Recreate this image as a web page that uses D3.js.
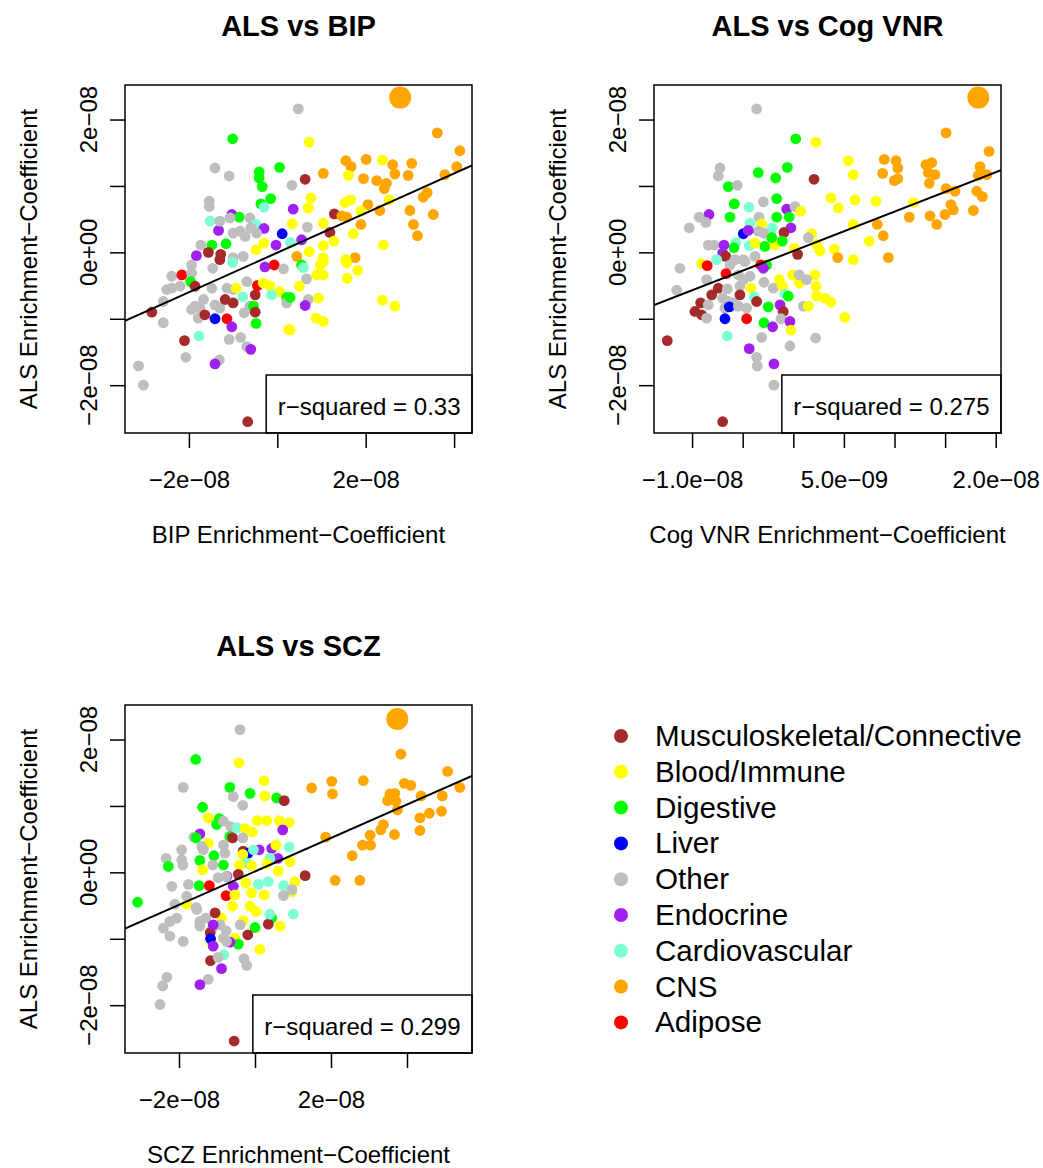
<!DOCTYPE html>
<html>
<head>
<meta charset="utf-8">
<script src="https://cdn.jsdelivr.net/npm/d3@7"></script>
<style>
  body { margin: 0; background: #fff; }
  text { font-family: "Liberation Sans", Arial, sans-serif; fill: #000; }
</style>
</head>
<body>
<div id="chart"></div>
<script>
// tissue categories and their colours
var categories = ["Musculoskeletal/Connective", "Blood/Immune", "Digestive", "Liver", "Other",
                  "Endocrine", "Cardiovascular", "CNS", "Adipose"];
var catColors = ["#A52A2A", "#FFFF00", "#00FF00", "#0000FF", "#BEBEBE",
                 "#A020F0", "#7FFFD4", "#FFA500", "#FF0000"];

// enrichment coefficients, in units of 1e-08: [x, ALS, category index]
var bipPoints = [
  [0.475,2.16,4],[-1.01,1.71,2],[-1.41,1.27,4],[-1.09,1.15,4],[0.05,1.28,2],[-0.41,1.21,2],[-0.41,1.12,2],
  [-0.34,0.99,2],[0.33,1.01,4],[-0.15,0.81,2],[-0.37,0.73,2],[-0.30,0.68,6],[-1.54,0.77,4],[-1.54,0.69,4],
  [0.36,0.65,5],[-1.03,0.57,5],[-0.86,0.53,2],[-0.62,0.52,4],[-1.07,0.52,4],[-1.52,0.47,6],[-1.33,0.33,5],
  [-1.30,0.47,4],[-0.48,0.42,6],[-0.30,0.36,5],[0.34,0.43,1],[0.11,0.28,3],[-1.0,0.29,4],[-0.84,0.32,4],
  [-0.73,0.24,4],[-0.60,0.37,4],[-0.47,0.29,4],[-0.30,0.14,1],[-0.03,0.11,5],[0.30,0.15,6],[-1.16,0.13,2],
  [-1.48,0.11,2],[-1.73,0.11,4],[-0.48,0.04,1],[-1.83,-0.05,5],[-1.56,0.0,0],[-1.28,-0.03,0],[-1.0,-0.08,4],
  [-0.77,-0.06,4],[0.44,-0.06,7],[3.62,1.80,7],[4.13,1.53,7],[0.72,1.66,1],[1.55,1.38,7],[1.67,1.29,7],
  [2.01,1.40,7],[2.38,1.39,1],[2.61,1.32,7],[3.04,1.34,7],[2.66,1.18,7],[2.96,1.16,7],[1.04,1.19,7],
  [1.61,1.16,1],[1.95,1.11,7],[2.25,1.08,7],[2.47,1.04,7],[2.42,0.96,7],[3.79,1.17,7],[4.06,1.29,7],
  [0.63,1.10,0],[0.76,0.82,1],[0.70,0.67,1],[1.53,0.75,1],[1.66,0.79,1],[2.05,0.72,7],[2.32,0.63,7],
  [2.53,0.79,1],[3.39,0.90,7],[3.30,0.83,7],[3.0,0.63,7],[3.53,0.57,7],[3.08,0.42,7],[3.17,0.25,7],
  [1.89,0.62,1],[1.29,0.58,0],[1.46,0.55,7],[1.57,0.53,7],[1.89,0.42,7],[0.68,0.38,4],[1.04,0.44,1],
  [1.19,0.30,0],[1.72,0.28,1],[0.55,0.19,5],[1.28,0.17,1],[1.04,0.10,1],[2.40,0.11,1],[0.72,0.01,1],
  [1.76,-0.08,7],[1.04,-0.08,1],[1.55,-0.11,1],
  [-1.30,-0.11,0],[-1.94,-0.19,4],[-1.46,-0.24,4],[-1.01,-0.15,6],[-0.28,-0.22,5],[-0.07,-0.19,8],
  [0.14,-0.25,4],[-2.39,-0.36,4],[-2.16,-0.34,8],[-1.94,-0.31,4],[-1.96,-0.44,2],[-1.86,-0.51,0],
  [-2.50,-0.56,4],[-2.39,-0.54,4],[-2.20,-0.51,4],[-2.58,-0.74,4],[-2.84,-0.90,0],[-2.58,-1.06,4],
  [-1.79,-0.99,4],[-1.75,-0.84,4],[-1.86,-0.81,4],[-1.94,-0.86,4],[-1.67,-0.71,4],[-1.48,-0.54,4],
  [-1.41,-0.79,4],[-1.30,-0.84,4],[-1.64,-0.94,0],[-1.41,-1.00,3],[-1.14,-1.00,8],[-1.03,-1.12,5],
  [-1.18,-0.71,0],[-1.0,-0.76,0],[-1.14,-0.54,4],[-1.0,-0.56,4],[-0.93,-0.54,1],[-0.69,-0.44,4],
  [-0.62,-0.81,4],[-0.54,-0.81,2],[-0.50,-0.64,0],[-0.50,-0.90,0],[-0.78,-0.67,6],[-0.75,-0.91,4],
  [-0.48,-1.07,2],[-0.45,-0.50,8],[-0.32,-0.46,1],[-0.17,-0.50,1],[0.05,-0.59,1],[-0.13,-0.64,6],
  [0.21,-0.68,2],[0.21,-0.76,4],[0.26,-1.16,1],[-1.77,-1.26,6],[-2.10,-1.33,0],[-2.07,-1.58,4],
  [-1.09,-1.31,4],[-0.83,-1.28,4],[-0.69,-1.42,4],[-0.60,-1.46,5],[-1.31,-1.62,4],[-1.41,-1.68,5],
  [-3.14,-1.71,4],[-3.03,-2.0,4],[-0.67,-2.55,0],
  [0.55,-0.19,2],[0.59,-0.23,6],[0.97,-0.19,1],[1.04,-0.14,1],[0.89,-0.34,1],[1.04,-0.34,1],[0.66,-0.40,4],
  [1.57,-0.16,1],[1.82,-0.27,1],[1.58,-0.39,1],[0.50,-0.51,1],[0.29,-0.68,2],[0.70,-0.71,4],[0.63,-0.80,5],
  [0.93,-0.69,1],[0.88,-0.99,1],[1.04,-1.04,1],[0.29,-1.17,1],[2.38,-0.72,1],[2.66,-0.81,1]
];

var cogPoints = [
  [-0.362,2.16,4],[0.024,1.71,2],[0.224,1.66,1],[-0.724,1.27,4],[-0.741,1.15,4],[-0.346,1.20,2],
  [-0.059,1.28,2],[-0.174,1.12,2],[0.205,1.10,0],[-0.642,0.99,2],[-0.553,1.01,4],[-0.583,0.73,2],
  [-0.164,0.81,2],[-0.438,0.68,6],[-0.296,0.76,4],[-0.065,0.65,5],[0.017,0.69,4],[0.073,0.62,1],
  [-0.833,0.57,5],[-0.929,0.53,4],[-0.863,0.45,4],[-1.028,0.37,4],[-0.625,0.53,2],[-0.164,0.53,2],
  [-0.040,0.53,2],[-0.339,0.53,4],[-0.428,0.44,6],[-0.312,0.43,1],[-0.023,0.37,5],[-0.092,0.30,0],
  [-0.208,0.37,6],[-0.223,0.30,6],[-0.346,0.32,4],[-0.290,0.29,4],[-0.494,0.28,3],[-0.445,0.33,5],
  [-0.566,0.15,6],[-0.586,0.07,2],[-0.435,0.10,6],[-0.378,0.14,1],[-0.280,0.09,2],[-0.181,0.11,1],
  [-0.109,0.17,2],[-0.213,0.22,2],[-0.840,0.11,4],[-0.784,0.11,4],[-0.685,0.11,5],[-0.698,-0.01,5],
  [-0.668,-0.06,0],[-0.378,-0.06,4],[-0.494,-0.11,4],[0.010,0.06,1],[0.043,-0.03,0],[0.182,0.28,1],
  [0.231,0.12,1],[0.264,0.02,1],[0.148,0.22,4],
  [1.509,1.80,7],[1.934,1.52,7],[0.543,1.38,1],[0.593,1.17,1],[0.899,1.40,7],[1.015,1.38,7],[1.032,1.27,7],
  [0.883,1.19,7],[0.998,1.08,7],[1.032,1.11,7],[1.311,1.32,7],[1.368,1.35,7],[1.334,1.20,7],[1.400,1.17,7],
  [1.344,1.04,7],[1.845,1.29,7],[1.828,1.16,7],[1.911,1.17,7],[1.509,0.96,7],[1.598,0.92,7],[1.812,0.92,7],
  [1.868,0.84,7],[1.779,0.63,7],[1.558,0.72,7],[1.581,0.64,7],[1.499,0.57,7],[1.351,0.55,7],[1.417,0.42,7],
  [1.146,0.53,7],[0.373,0.82,1],[0.445,0.67,1],[0.610,0.79,1],[0.817,0.77,1],[1.186,0.75,1],[0.830,0.42,7],
  [0.889,0.25,7],[0.593,0.42,1],[0.751,0.17,1],[0.405,0.05,1],[0.939,-0.08,7],[0.439,-0.08,7],[0.593,-0.11,1],
  [0.51,-0.98,1],[0.37,-0.75,1],
  [-0.905,-0.17,1],[-0.850,-0.20,8],[-1.120,-0.24,4],[-0.757,-0.11,6],[-0.625,-0.19,4],[-0.576,-0.11,4],
  [-0.477,-0.14,4],[-0.263,-0.19,2],[-0.322,-0.19,8],[-0.296,-0.24,5],[-0.856,-0.41,4],[-0.665,-0.32,8],
  [-0.543,-0.34,4],[-0.494,-0.41,4],[-0.428,-0.36,4],[-0.527,-0.51,4],[-1.152,-0.57,4],[-0.741,-0.54,0],
  [-0.652,-0.55,4],[-0.806,-0.64,0],[-0.915,-0.76,0],[-0.971,-0.89,0],[-0.905,-0.94,0],[-0.856,-0.99,4],
  [-0.840,-0.79,4],[-0.698,-0.69,4],[-0.642,-0.74,4],[-0.675,-0.84,4],[-0.593,-0.76,4],[-0.527,-0.64,0],
  [-0.632,-0.82,3],[-0.675,-1.00,3],[-0.543,-0.81,4],[-0.461,-0.84,4],[-0.461,-1.00,8],[-0.652,-1.26,6],
  [-0.418,-0.54,1],[-0.385,-0.67,6],[-0.362,-0.74,0],[-0.290,-0.45,4],[-0.198,-0.54,4],[-0.138,-0.41,1],
  [-0.105,-0.51,1],[-0.082,-0.63,6],[-0.049,-0.66,2],[-0.247,-0.82,2],[-0.131,-0.79,5],[-0.099,-0.89,0],
  [-0.122,-1.00,4],[-0.290,-1.06,2],[-0.204,-1.12,5],[-0.033,-1.04,5],[-0.023,-1.17,1],[-0.312,-1.28,4],
  [-0.033,-1.41,4],[-0.435,-1.45,5],[-0.362,-1.58,4],[-0.356,-1.71,4],[-0.191,-1.68,5],[-0.191,-2.0,4],
  [-1.245,-1.33,0],[-0.698,-2.55,0],[-0.006,-0.34,1],[0.059,-0.46,1],[0.214,-0.34,1],[0.224,-0.51,1],
  [0.231,-0.66,1],[0.313,-0.69,1],[0.059,-0.34,4],[0.132,-0.41,4],[0.099,-0.81,4],[0.148,-0.81,1],
  [0.221,-1.29,4]
];

var sczPoints = [
  [-0.395,2.15,4],[-1.56,1.70,2],[-0.42,1.65,1],[-1.89,1.28,4],[-0.66,1.28,2],[0.24,1.38,1],[0.26,1.15,1],
  [-0.13,1.19,2],[-0.57,1.14,4],[-0.32,1.01,4],[0.57,1.12,2],[0.77,1.08,0],[-1.38,0.98,2],[-1.23,0.82,1],
  [-0.94,0.81,2],[-1.01,0.72,2],[-0.83,0.77,4],[-0.64,0.69,4],[-0.47,0.67,6],[-0.26,0.66,1],[-0.07,0.61,1],
  [0.06,0.78,1],[0.31,0.78,1],[0.64,0.78,1],[0.90,0.75,1],[0.73,0.64,5],[-1.45,0.58,5],[-1.61,0.53,4],
  [-1.55,0.52,2],[-0.66,0.54,2],[-0.59,0.52,0],[-0.32,0.52,4],[-1.23,0.44,1],[-1.40,0.39,4],[-1.36,0.34,4],
  [-0.83,0.41,4],[-0.79,0.29,4],[-1.93,0.34,4],[-2.34,0.21,4],[-1.93,0.19,4],[-1.90,0.11,4],[-2.28,0.09,2],
  [-1.45,0.18,2],[-1.08,0.25,2],[-0.83,0.11,2],[-1.38,0.04,1],[-1.11,0.11,4],[-0.31,0.32,0],[-0.18,0.29,3],
  [-0.32,0.27,1],[0.11,0.34,5],[0.44,0.36,5],[-0.04,0.34,6],[0.55,0.41,1],[0.90,0.38,6],[0.60,0.21,5],
  [-0.22,0.14,6],[0.39,0.21,6],[-0.09,0.10,1],[0.31,0.13,1],[0.92,0.16,1],[0.61,0.02,1],[-0.41,0.11,1],
  [-0.44,-0.03,0],[-0.74,-0.06,5],[-0.97,-0.08,4],
  [3.84,1.78,7],[5.07,1.52,7],[5.39,1.28,7],[1.49,1.27,7],[2.02,1.37,7],[2.04,1.18,7],[2.85,1.38,7],
  [3.93,1.34,7],[4.10,1.31,7],[3.55,1.18,7],[3.68,1.19,7],[3.49,1.08,7],[3.71,1.07,7],[3.75,0.94,7],
  [4.37,1.15,7],[4.93,1.15,7],[4.91,0.92,7],[4.59,0.89,7],[4.34,0.82,7],[4.34,0.63,7],[3.38,0.72,7],
  [3.31,0.64,7],[3.67,0.57,7],[3.03,0.56,7],[2.83,0.41,7],[3.04,0.41,7],[1.86,0.53,7],[2.56,0.25,7],
  [2.11,-0.12,7],[2.76,-0.12,7],[1.32,-0.05,0],[1.05,-0.14,1],[0.97,-0.29,1],
  [-3.09,-0.45,2],[-2.19,-0.21,4],[-1.75,-0.18,4],[-1.47,-0.20,2],[-1.20,-0.20,8],[-0.76,-0.35,8],
  [-0.57,-0.21,5],[-0.76,-0.06,4],[-0.24,-0.16,1],[-0.09,-0.31,1],[0.24,-0.34,1],[-0.13,-0.51,1],
  [0.03,-0.59,1],[0.66,-0.81,1],[0.13,-1.16,1],[-0.53,-0.34,1],[-0.59,-0.51,1],[-0.88,-0.69,1],
  [-0.31,-0.73,1],[-0.53,-0.99,1],[-1.80,-0.48,1],[-2.11,-0.48,4],[-1.80,-0.36,4],[-1.55,-0.53,4],
  [0.09,-0.18,6],[0.35,-0.14,6],[0.75,-0.20,6],[0.75,-0.35,4],[0.97,-0.26,4],[0.44,-0.69,2],[0.35,-0.78,0],
  [1.01,-0.63,6],[0.39,-0.63,6],[0.0,-0.83,2],[-0.39,-0.79,4],[-0.19,-0.94,0],[-0.44,-1.08,2],[-0.66,-1.05,5],
  [-2.41,-0.84,4],[-2.24,-0.74,4],[-2.06,-0.69,4],[-2.24,-0.96,4],[-1.89,-1.04,4],[-1.53,-0.56,4],
  [-1.45,-0.74,4],[-1.29,-0.69,4],[-1.45,-0.81,4],[-1.14,-0.86,4],[-0.92,-0.79,4],[-0.76,-0.88,4],
  [-0.83,-0.99,4],[-0.75,-1.04,4],[-1.05,-0.61,0],[-1.18,-0.91,0],[-1.10,-0.79,5],[-1.14,-1.06,1],
  [-1.17,-1.00,3],[-1.10,-1.11,5],[-1.17,-1.33,0],[-0.82,-1.24,6],[-0.97,-1.28,4],[-0.88,-1.45,5],
  [-0.29,-1.30,4],[-0.22,-1.40,4],[-1.23,-1.61,4],[-1.45,-1.69,5],[-2.32,-1.58,4],[-2.43,-1.71,4],
  [-2.50,-1.99,4],[-0.55,-2.54,0]
];

// the enlarged CNS point in each panel
var highlightBIP = [2.78, 2.33];
var highlightCOG = [1.828, 2.33];
var highlightSCZ = [3.745, 2.31];

// fitted lines: [intercept, slope], and r-squared
var fitBIP = [-0.005, 0.298];
var fitCOG = [0.020, 0.5925];
var fitSCZ = [0.014, 0.252];
var rSquared = ["0.33", "0.275", "0.299"];

// ticks (units of 1e-08)
var yTicks = [-2, -1, 0, 1, 2];
var yTickLabels = ["\u22122e\u221208", "", "0e+00", "", "2e\u221208"];
var bipTicks = [-2, 0, 2, 4];
var bipTickLabels = ["\u22122e\u221208", "", "2e\u221208", ""];
var cogTicks = [-1, -0.5, 0, 0.5, 1, 1.5, 2];
var cogTickLabels = ["\u22121.0e\u221208", "", "", "5.0e\u221209", "", "", "2.0e\u221208"];
var sczTicks = [-2, 0, 2, 4];
var sczTickLabels = ["\u22122e\u221208", "", "2e\u221208", ""];

var width = 1043, height = 1168;
var yDomain = [-2.72, 2.52];

var panels = [
  {id: "bip", title: "ALS vs BIP", xlab: "BIP Enrichment\u2212Coefficient", points: bipPoints,
   hi: highlightBIP, fit: fitBIP, r2: rSquared[0], ticks: bipTicks, labels: bipTickLabels,
   left: 125, right: 472, top: 85, bottom: 433, xDomain: [-3.446, 4.405]},
  {id: "cog", title: "ALS vs Cog VNR", xlab: "Cog VNR Enrichment\u2212Coefficient", points: cogPoints,
   hi: highlightCOG, fit: fitCOG, r2: rSquared[1], ticks: cogTicks, labels: cogTickLabels,
   left: 654, right: 1001, top: 85, bottom: 433, xDomain: [-1.376, 2.052]},
  {id: "scz", title: "ALS vs SCZ", xlab: "SCZ Enrichment\u2212Coefficient", points: sczPoints,
   hi: highlightSCZ, fit: fitSCZ, r2: rSquared[2], ticks: sczTicks, labels: sczTickLabels,
   left: 125, right: 472, top: 705, bottom: 1053, xDomain: [-3.421, 5.711]}
];

var svg = d3.select("#chart").append("svg")
    .attr("width", width)
    .attr("height", height)
    .style("background", "#fff");

panels.forEach(function(p) {
  var x = d3.scaleLinear().domain(p.xDomain).range([p.left, p.right]);
  var y = d3.scaleLinear().domain(yDomain).range([p.bottom, p.top]);
  var cx = (p.left + p.right) / 2, cy = (p.top + p.bottom) / 2;
  var g = svg.append("g");

  g.append("clipPath").attr("id", "clip-" + p.id)
    .append("rect")
      .attr("x", p.left).attr("y", p.top)
      .attr("width", p.right - p.left).attr("height", p.bottom - p.top);

  var plot = g.append("g").attr("clip-path", "url(#clip-" + p.id + ")");

  plot.selectAll("circle.pt")
      .data(p.points)
    .enter().append("circle")
      .attr("class", "pt")
      .attr("cx", function(d) { return x(d[0]); })
      .attr("cy", function(d) { return y(d[1]); })
      .attr("r", 5.4)
      .attr("fill", function(d) { return catColors[d[2]]; });

  plot.append("circle")
      .attr("cx", x(p.hi[0]))
      .attr("cy", y(p.hi[1]))
      .attr("r", 11)
      .attr("fill", catColors[7]);

  plot.append("line")
      .attr("x1", x(p.xDomain[0])).attr("y1", y(p.fit[0] + p.fit[1] * p.xDomain[0]))
      .attr("x2", x(p.xDomain[1])).attr("y2", y(p.fit[0] + p.fit[1] * p.xDomain[1]))
      .attr("stroke", "#000").attr("stroke-width", 2);

  // r-squared box
  var r2 = g.append("text")
      .attr("y", p.bottom - 18)
      .style("font-size", "24px")
      .text("r\u2212squared = " + p.r2);
  var tw = r2.node().getComputedTextLength();
  var bx = p.right - tw - 23;
  r2.attr("x", bx + 11.5);
  g.append("rect")
      .attr("x", bx).attr("y", p.bottom - 58)
      .attr("width", p.right - bx).attr("height", 58)
      .attr("fill", "none").attr("stroke", "#000").attr("stroke-width", 1.5);

  // plot box
  g.append("rect")
      .attr("x", p.left).attr("y", p.top)
      .attr("width", p.right - p.left).attr("height", p.bottom - p.top)
      .attr("fill", "none").attr("stroke", "#000").attr("stroke-width", 1.5);

  // x axis
  g.append("g")
      .attr("transform", "translate(0," + p.bottom + ")")
      .call(d3.axisBottom(x).tickValues(p.ticks).tickSize(15)
            .tickFormat(function(d, i) { return p.labels[i]; }))
      .call(function(a) {
        a.select(".domain").remove();
        a.selectAll("line").attr("stroke", "#000").attr("stroke-width", 1.5);
        a.selectAll("text").attr("y", 55).attr("dy", 0)
          .style("font-size", "24px").attr("fill", "#000")
          .style("font-family", '"Liberation Sans", Arial, sans-serif');
      });

  // y axis
  g.append("g")
      .attr("transform", "translate(" + p.left + ",0)")
      .call(d3.axisLeft(y).tickValues(yTicks).tickSize(15).tickFormat(""))
      .call(function(a) {
        a.select(".domain").remove();
        a.selectAll("line").attr("stroke", "#000").attr("stroke-width", 1.5);
      });

  g.selectAll("text.ytick")
      .data(yTicks)
    .enter().append("text")
      .attr("class", "ytick")
      .attr("transform", function(d) { return "translate(" + (p.left - 28) + "," + y(d) + ") rotate(-90)"; })
      .attr("text-anchor", "middle")
      .style("font-size", "24px")
      .text(function(d, i) { return yTickLabels[i]; });

  // titles
  g.append("text")
      .attr("x", cx).attr("y", p.top - 49)
      .attr("text-anchor", "middle")
      .style("font-size", "29px").style("font-weight", "bold")
      .text(p.title);

  g.append("text")
      .attr("x", cx).attr("y", p.bottom + 110)
      .attr("text-anchor", "middle")
      .style("font-size", "24px")
      .text(p.xlab);

  g.append("text")
      .attr("transform", "translate(" + (p.left - 88) + "," + cy + ") rotate(-90)")
      .attr("text-anchor", "middle")
      .style("font-size", "24px")
      .text("ALS Enrichment\u2212Coefficient");
});

// legend
var legend = svg.append("g");
var row = legend.selectAll("g")
    .data(categories)
  .enter().append("g")
    .attr("transform", function(d, i) { return "translate(621," + (736 + i * 35.8) + ")"; });

row.append("circle")
    .attr("r", 7)
    .attr("fill", function(d, i) { return catColors[i]; });

row.append("text")
    .attr("x", 34)
    .attr("y", 10)
    .style("font-size", "29.6px")
    .text(function(d) { return d; });
</script>
</body>
</html>
